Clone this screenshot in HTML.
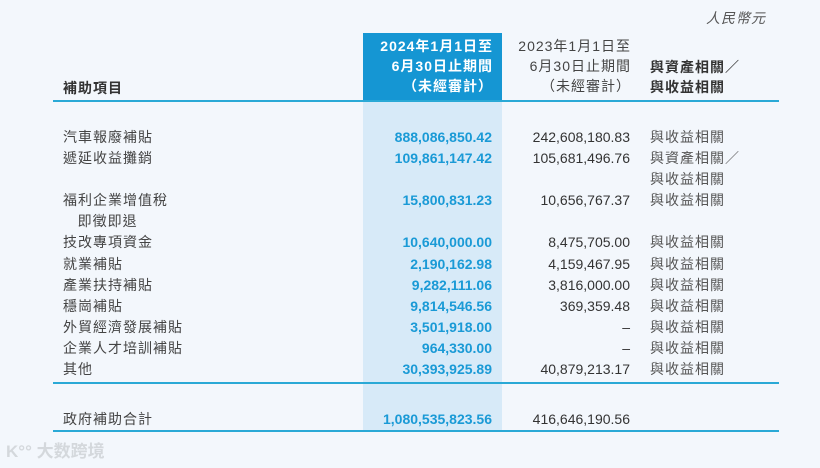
<!DOCTYPE html>
<html><head><meta charset="utf-8"><style>
body{margin:0;width:820px;height:468px;background:#f3f7fc;position:relative;overflow:hidden;font-family:"Liberation Sans","Noto Sans CJK TC",sans-serif;color:#333;font-size:14px}
.a{position:absolute;white-space:nowrap;line-height:20px}
.r{text-align:right}
.b{font-weight:bold}
.c{color:#1a9ad6;font-weight:bold}
.ls{letter-spacing:1px}
.ln{position:absolute;left:53px;width:726px;height:2px;background:#2aa9d6}
</style></head><body>
<div class="a ls" style="left:706px;top:8px;font-style:italic;color:#555">人民幣元</div>
<div style="position:absolute;left:363px;top:33px;width:139px;height:68px;background:#1596d3"></div>
<div style="position:absolute;left:363px;top:101px;width:139px;height:331px;background:#d7eaf8"></div>
<div class="a r b ls" style="left:363px;width:130px;top:36px;color:#fff">2024年1月1日至<br>6月30日止期間<br>（未經審計）</div>
<div class="a r ls" style="left:500px;width:131px;top:36px;color:#444">2023年1月1日至<br>6月30日止期間<br>（未經審計）</div>
<div class="a b ls" style="left:650px;top:57px;color:#333">與資產相關／<br>與收益相關</div>
<div class="a b ls" style="left:63px;top:78px">補助項目</div>
<div class="ln" style="top:100px"></div>
<div class="ln" style="top:382px"></div>
<div class="ln" style="top:430px"></div>
<div class="a ls" style="left:63px;top:127px;line-height:21.1px;color:#444">汽車報廢補貼<br>遞延收益攤銷<br>&nbsp;<br>福利企業增值稅<br>&nbsp;&nbsp;&nbsp;即徵即退<br>技改專項資金<br>就業補貼<br>產業扶持補貼<br>穩崗補貼<br>外貿經濟發展補貼<br>企業人才培訓補貼<br>其他</div>
<div class="a r c" style="left:363px;width:129px;top:127px;line-height:21.1px">888,086,850.42<br>109,861,147.42<br>&nbsp;<br>15,800,831.23<br>&nbsp;<br>10,640,000.00<br>2,190,162.98<br>9,282,111.06<br>9,814,546.56<br>3,501,918.00<br>964,330.00<br>30,393,925.89</div>
<div class="a r" style="left:500px;width:130px;top:127px;line-height:21.1px;color:#333">242,608,180.83<br>105,681,496.76<br>&nbsp;<br>10,656,767.37<br>&nbsp;<br>8,475,705.00<br>4,159,467.95<br>3,816,000.00<br>369,359.48<br>–<br>–<br>40,879,213.17</div>
<div class="a ls" style="left:650px;top:127px;line-height:21.1px;color:#555">與收益相關<br>與資產相關／<br>與收益相關<br>與收益相關<br>&nbsp;<br>與收益相關<br>與收益相關<br>與收益相關<br>與收益相關<br>與收益相關<br>與收益相關<br>與收益相關</div>
<div class="a ls" style="left:63px;top:409px;color:#444">政府補助合計</div>
<div class="a r c" style="left:363px;width:129px;top:409px">1,080,535,823.56</div>
<div class="a r" style="left:500px;width:130px;top:409px">416,646,190.56</div>
<div class="a" style="left:6px;top:442px;color:#d4d8dc;font-size:17px;font-weight:bold">K°° 大数跨境</div>
</body></html>
